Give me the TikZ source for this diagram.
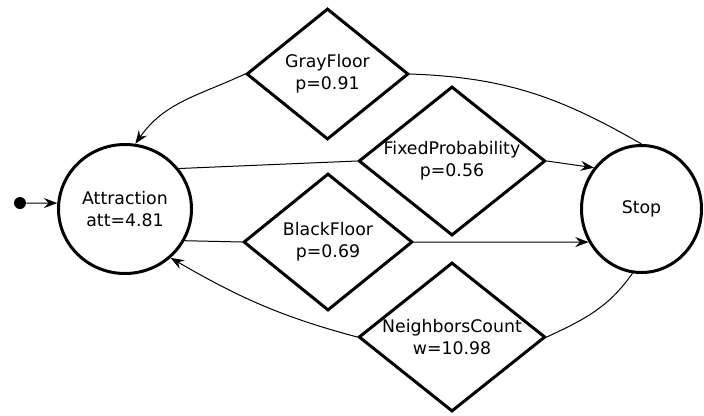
\documentclass[tikz,border=0pt]{standalone}
\usepackage{fontspec}
\setmainfont{DejaVu Sans}
\usetikzlibrary{shapes.geometric,arrows.meta}
\begin{document}
\begin{tikzpicture}[x=0.75pt,y=-0.75pt,
  every node/.style={font=\fontsize{13pt}{16.5pt}\selectfont, align=center},
  state/.style={draw, ellipse, line width=2.25pt, inner sep=0pt},
  cond/.style={draw, diamond, line width=2.25pt, inner sep=0pt, aspect=1.25},
  edge/.style={line width=0.75pt},
  arr/.style={edge, -{Stealth[length=10pt,width=7.5pt,inset=3.5pt]}},
  dot/.style={circle, fill=black, inner sep=0pt, minimum size=9pt}]
\useasboundingbox (0,0) rectangle (704,415);
\node[state, minimum width=99.75pt, minimum height=96.75pt] (att) at (125,209) {Attraction\\att=4.81};
\node[state, minimum width=90pt, minimum height=95.25pt] (stop) at (641.5,209) {Stop};
\node[dot] (init) at (20,203) {};
\node[cond, minimum width=121.5pt, minimum height=98.25pt] (gray) at (327.5,74) {GrayFloor\\p=0.91};
\node[cond, minimum width=140pt, minimum height=111.75pt] (fixed) at (452,161) {FixedProbability\\p=0.56};
\node[cond, minimum width=126.75pt, minimum height=102.75pt] (black) at (328,242) {BlackFloor\\p=0.69};
\node[cond, minimum width=140pt, minimum height=111.75pt] (neigh) at (452,337) {NeighborsCount\\w=10.98};
\draw[arr] (init) -- (att.175);
\draw[arr] (gray.west) to[out=205,in=55] (att.81);
\draw[edge] (gray.east) to[out=-2,in=150] (stop.90);
\draw[edge] (att.37) -- (fixed.west);
\draw[arr] (fixed.east) -- (stop.139);
\draw[edge] (att.-28) -- (black.west);
\draw[arr] (black.east) -- (stop.212);
\draw[edge] (neigh.east) to[out=25,in=235] (stop.262);
\draw[arr] (neigh.west) to[out=165,in=-30] (att.-47);
\end{tikzpicture}
\end{document}
